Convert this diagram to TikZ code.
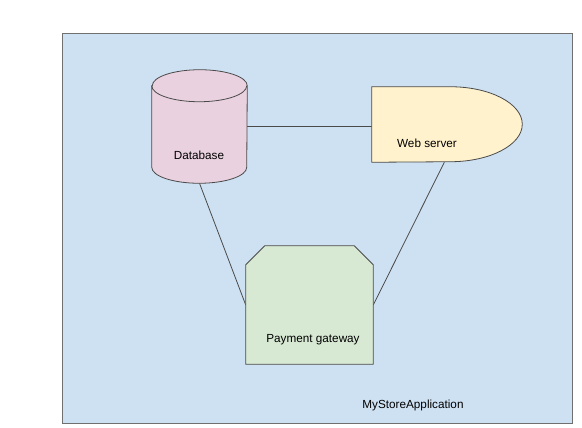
\documentclass[tikz,border=0pt]{standalone}
\usepackage{fontspec}
\setmainfont{Liberation Sans}
\usetikzlibrary{positioning}
\definecolor{appblue}{HTML}{CEE1F3}
\definecolor{appedge}{HTML}{707070}
\definecolor{dbpink}{HTML}{E9D1DF}
\definecolor{webyellow}{HTML}{FFF2CC}
\definecolor{paygreen}{HTML}{D7E9D3}
\definecolor{shapeedge}{HTML}{4A4A4A}

\begin{document}
\begin{tikzpicture}[x=0.75pt,y=-0.75pt,
    font=\fontsize{8.8}{10}\selectfont,
    frame/.style={inner sep=0pt, draw=none},
    outline/.style={draw=shapeedge, line width=0.6pt},
    link/.style={draw=shapeedge, line width=0.6pt}]
  \useasboundingbox (0,0) rectangle (582,428);
  \fill[white] (0,0) rectangle (582,428);
  \draw[draw=appedge, fill=appblue, line width=0.7pt] (62,33) rectangle (572,423);

  % shape frames
  \node[frame, minimum width=71.25pt, minimum height=84.75pt] (db) at (199.5,126.5) {};
  \node[frame, minimum width=112.5pt, minimum height=56.25pt] (web) at (447,124.5) {};
  \node[frame, minimum width=95.25pt, minimum height=88.5pt] (pay) at (309.5,305) {};

  % connectors
  \draw[link] (db.east) -- (db.east -| web.west);
  \draw[link] (db.south) -- (pay.west);
  \draw[link] ([xshift=-2pt]web.south) -- (pay.east);

  % database cylinder
  \draw[outline, fill=dbpink] ([yshift=-12pt]db.north west) -- ([yshift=12pt]db.south west)
    arc[start angle=180, end angle=360, x radius=35.625pt, y radius=12pt]
    -- ([yshift=-12pt]db.north east)
    arc[start angle=0, end angle=180, x radius=35.625pt, y radius=12pt] -- cycle;
  \draw[outline] ([yshift=-12pt]db.north west)
    arc[start angle=180, end angle=360, x radius=35.625pt, y radius=12pt];

  % web server
  \draw[outline, fill=webyellow] (web.north west) -- ([xshift=-54pt]web.north east)
    arc[start angle=90, end angle=-90, x radius=54pt, y radius=28.125pt]
    -- (web.south west) -- cycle;

  % payment gateway
  \draw[outline, fill=paygreen] ([yshift=-14.25pt]pay.north west) -- ([xshift=14.25pt]pay.north west)
    -- ([xshift=-14.25pt]pay.north east) -- ([yshift=-14.25pt]pay.north east)
    -- (pay.south east) -- (pay.south west) -- cycle;

  % labels
  \node (dblabel) at (199,155) {Database};
  \node (weblabel) at (427,143) {Web server};
  \node (paylabel) at (313,340) {Payment gateway};
  \node (applabel) at (413,405) {MyStoreApplication};
\end{tikzpicture}
\end{document}
